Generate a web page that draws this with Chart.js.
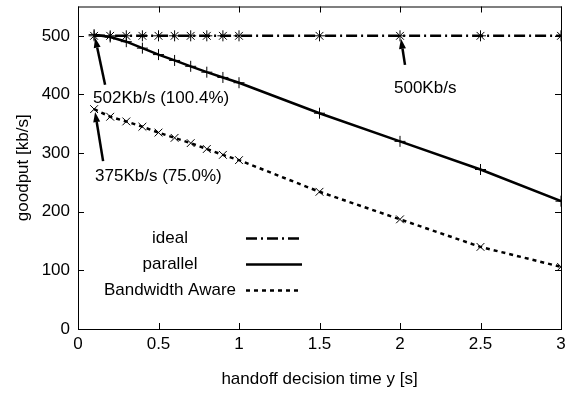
<!DOCTYPE html>
<html>
<head>
<meta charset="utf-8">
<script src="https://cdn.jsdelivr.net/npm/chart.js@4"></script>
<style>
  html, body { margin: 0; padding: 0; background: #fff; }
  #wrap { width: 572px; height: 394px; position: relative; }
</style>
</head>
<body>
<div id="wrap"><canvas id="c"></canvas></div>
<script>
// handoff decision time (s)
const times = [0.1, 0.2, 0.3, 0.4, 0.5, 0.6, 0.7, 0.8, 0.9, 1.0, 1.5, 2.0, 2.5, 3.0];
const ideal = [500, 500, 500, 500, 500, 500, 500, 500, 500, 500, 500, 500, 500, 500];
const parallel = [502, 498, 490, 479, 468, 458, 448, 438, 429, 420, 368, 320, 272, 218];
const bwAware = [375, 362, 354, 345, 335, 326, 317, 307, 297, 288, 234, 187, 140, 106];
const xTicks = [0, 0.5, 1, 1.5, 2, 2.5, 3];
const yTicks = [0, 100, 200, 300, 400, 500];

const FONT = '"Liberation Sans", Arial, sans-serif';
const FS = 17;

// annotations: text, anchored data point, arrow tail and label placement relative to that point
const notes = [
    { text: '502Kb/s (100.4%)', x: 0.1, y: 502, dx: 11, dy: 50, tx: -1, ty: 64 },
    { text: '375Kb/s (75.0%)', x: 0.1, y: 375, dx: 9, dy: 52, tx: 1, ty: 67 },
    { text: '500Kb/s', x: 2.0, y: 500, dx: 5, dy: 29, tx: -6, ty: 52 }
];

const toPts = vals => vals.map((v, i) => ({ x: times[i], y: v }));

// frame + inward ticks on all four sides (gnuplot style)
const framePlugin = {
    id: 'frame',
    afterDatasetsDraw(chart) {
        const { ctx, chartArea: a, scales } = chart;
        ctx.save();
        ctx.strokeStyle = '#000';
        ctx.lineWidth = 1;
        ctx.strokeRect(a.left + 0.5, a.top + 0.5, a.right - a.left, a.bottom - a.top);
        ctx.beginPath();
        xTicks.forEach(t => {
            const px = Math.round(scales.x.getPixelForValue(t)) + 0.5;
            ctx.moveTo(px, a.bottom); ctx.lineTo(px, a.bottom - 6);
            ctx.moveTo(px, a.top); ctx.lineTo(px, a.top + 6);
        });
        yTicks.forEach(t => {
            const py = Math.round(scales.y.getPixelForValue(t)) + 0.5;
            ctx.moveTo(a.left, py); ctx.lineTo(a.left + 6, py);
            ctx.moveTo(a.right, py); ctx.lineTo(a.right - 6, py);
        });
        ctx.stroke();
        ctx.restore();
    }
};

function arrow(ctx, x0, y0, x1, y1) {
    const ang = Math.atan2(y1 - y0, x1 - x0);
    const len = 10, w = 3.5;
    const bx = x1 - len * Math.cos(ang), by = y1 - len * Math.sin(ang);
    ctx.beginPath();
    ctx.moveTo(x0, y0); ctx.lineTo(bx, by);
    ctx.lineWidth = 2.5;
    ctx.stroke();
    ctx.beginPath();
    ctx.moveTo(x1, y1);
    ctx.lineTo(bx + w * Math.sin(ang), by - w * Math.cos(ang));
    ctx.lineTo(bx - w * Math.sin(ang), by + w * Math.cos(ang));
    ctx.closePath();
    ctx.fill();
}

const notesPlugin = {
    id: 'notes',
    afterDatasetsDraw(chart) {
        const { ctx, scales } = chart;
        ctx.save();
        ctx.fillStyle = '#000';
        ctx.strokeStyle = '#000';
        ctx.font = FS + 'px ' + FONT;
        ctx.textBaseline = 'middle';
        notes.forEach(n => {
            const px = scales.x.getPixelForValue(n.x);
            const py = scales.y.getPixelForValue(n.y);
            arrow(ctx, px + n.dx, py + n.dy, px + 1, py + 3);
            ctx.textAlign = 'left';
            ctx.fillText(n.text, px + n.tx, py + n.ty);
        });
        ctx.restore();
    }
};

// gnuplot-like key inside the plot
const keyPlugin = {
    id: 'key',
    afterDatasetsDraw(chart) {
        const { ctx, chartArea: a } = chart;
        ctx.save();
        ctx.font = FS + 'px ' + FONT;
        ctx.textAlign = 'center';
        ctx.textBaseline = 'middle';
        chart.data.datasets.forEach((ds, i) => {
            const y = a.top + 232 + i * 26;
            const x0 = a.left + 168, x1 = a.left + 224;
            ctx.fillStyle = '#000';
            ctx.fillText(ds.label, a.left + 92, y);
            ctx.strokeStyle = '#000';
            ctx.lineWidth = ds.borderWidth;
            ctx.setLineDash(ds.borderDash || []);
            ctx.beginPath();
            ctx.moveTo(x0, y); ctx.lineTo(x1, y);
            ctx.stroke();
            ctx.setLineDash([]);
            ctx.lineWidth = 1;
            Chart.helpers.drawPoint(ctx, { pointStyle: ds.pointStyle, radius: ds.pointRadius, rotation: 0 }, (x0 + x1) / 2, y);
        });
        ctx.restore();
    }
};

const common = { borderColor: '#000', backgroundColor: '#000', borderWidth: 2.5, pointRadius: 5.5,
    pointBorderWidth: 1, pointBorderColor: '#000', pointHoverRadius: 5.5, fill: false, tension: 0 };

new Chart(document.getElementById('c'), {
    type: 'line',
    data: {
        datasets: [
            Object.assign({}, common, { label: 'ideal', data: toPts(ideal), pointStyle: 'star', borderDash: [11, 4, 2, 4] }),
            Object.assign({}, common, { label: 'parallel', data: toPts(parallel), pointStyle: 'cross' }),
            Object.assign({}, common, { label: 'Bandwidth Aware', data: toPts(bwAware), pointStyle: 'crossRot', borderDash: [4, 4] })
        ]
    },
    options: {
        responsive: true,
        maintainAspectRatio: false,
        animation: false,
        layout: { padding: { left: 0, right: 11, top: 4, bottom: 4 } },
        plugins: { legend: { display: false }, tooltip: { enabled: false } },
        scales: {
            x: {
                type: 'linear', min: 0, max: 3,
                afterBuildTicks: s => { s.ticks = xTicks.map(v => ({ value: v })); },
                afterFit: s => { s.height = 61; s.paddingLeft = 0; s.paddingRight = 0; },
                grid: { display: false, drawTicks: false },
                border: { display: false },
                ticks: { color: '#000', font: { family: FONT, size: FS }, padding: 5, maxRotation: 0,
                    callback: v => String(v) },
                title: { display: true, text: 'handoff decision time y [s]', color: '#000', font: { family: FONT, size: FS }, padding: 0 }
            },
            y: {
                type: 'linear', min: 0, max: 550,
                afterBuildTicks: s => { s.ticks = yTicks.map(v => ({ value: v })); },
                afterFit: s => { s.width = 78; s.paddingTop = 0; s.paddingBottom = 0; },
                grid: { display: false, drawTicks: false },
                border: { display: false },
                ticks: { color: '#000', font: { family: FONT, size: FS }, padding: 8 },
                title: { display: true, text: 'goodput [kb/s]', color: '#000', font: { family: FONT, size: FS }, padding: { top: 13, bottom: 0 } }
            }
        }
    },
    plugins: [framePlugin, notesPlugin, keyPlugin]
});
</script>
</body>
</html>
